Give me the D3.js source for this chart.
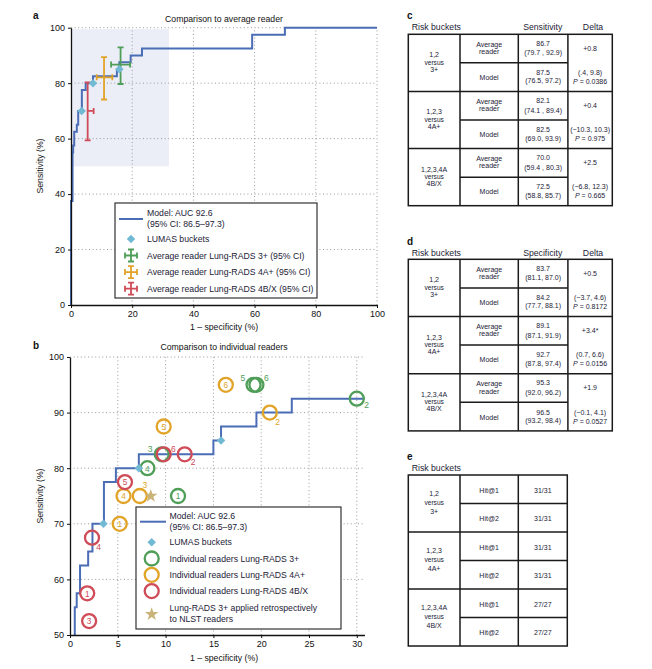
<!DOCTYPE html>
<html><head><meta charset="utf-8">
<script src="https://cdn.jsdelivr.net/npm/d3@7"></script>
<style>body{margin:0;background:#fff} text{font-family:"Liberation Sans",Arial,Helvetica,sans-serif}</style>
</head><body><svg id="c" width="652" height="669"></svg>
<script>
// ---------------- DATA ----------------
const rocFpr = [0, 0, 0.5, 0.7, 1.05, 1.9, 2.35, 3.55, 4.8, 7.2, 15.0, 15.8, 19.5, 23.2, 59.2, 69.9, 100];
const rocTpr = [0, 37.5, 55, 57.5, 62.5, 65, 70, 77.5, 80, 82.5, 85, 87.5, 90, 92.5, 97.5, 100, 100];

const lumasFpr = [3.5, 7.2, 15.8];
const lumasSens = [70, 80, 85];

const avgLabels = ["Average reader Lung-RADS 3+ (95% CI)", "Average reader Lung-RADS 4A+ (95% CI)", "Average reader Lung-RADS 4B/X (95% CI)"];
const avgFpr = [16.2, 10.8, 5.45];
const avgFprLo = [13.1, 8.4, 5.45];
const avgFprHi = [19.3, 13.5, 7.4];
const avgSens = [86.7, 82.1, 70.0];
const avgSensLo = [79.7, 74.1, 59.4];
const avgSensHi = [92.9, 89.4, 80.3];

const readerIds = [1, 2, 3, 4, 5, 6];
const r3Fpr = [11.3, 30.0, 9.6, 8.1, 19.2, 19.5];
const r3Sens = [75, 92.5, 82.5, 80, 95, 95];
const r4AFpr = [5.2, 20.9, 7.3, 5.6, 9.8, 16.3];
const r4ASens = [70, 90, 75, 75, 87.5, 95];
const r4BFpr = [1.8, 12.0, 2.0, 2.3, 5.75, 9.8];
const r4BSens = [57.5, 82.5, 52.5, 67.5, 77.5, 82.5];
const starFpr = [8.45];
const starSens = [75];

const readerLegend = ["Individual readers Lung-RADS 3+", "Individual readers Lung-RADS 4A+", "Individual readers Lung-RADS 4B/X"];

const ticksA = [0, 20, 40, 60, 80, 100];
const ticksBx = [0, 5, 10, 15, 20, 25, 30];
const ticksBy = [50, 60, 70, 80, 90, 100];

const buckets = [["1,2", "versus", "3+"], ["1,2,3", "versus", "4A+"], ["1,2,3,4A", "versus", "4B/X"]];
const sensAvgVal = ["86.7", "82.1", "70.0"];
const sensAvgCI = ["(79.7 , 92.9)", "(74.1 , 89.4)", "(59.4 , 80.3)"];
const sensModVal = ["87.5", "82.5", "72.5"];
const sensModCI = ["(76.5, 97.2)", "(69.0, 93.9)", "(58.8, 85.7)"];
const sensDelta = ["+0.8", "+0.4", "+2.5"];
const sensDeltaCI = ["(.4, 9.8)", "(\u221210.3, 10.3)", "(\u22126.8, 12.3)"];
const sensP = ["0.0386", "0.975", "0.665"];

const specAvgVal = ["83.7", "89.1", "95.3"];
const specAvgCI = ["(81.1, 87.0)", "(87.1, 91.9)", "(92.0, 96.2)"];
const specModVal = ["84.2", "92.7", "96.5"];
const specModCI = ["(77.7, 88.1)", "(87.8, 97.4)", "(93.2, 98.4)"];
const specDelta = ["+0.5", "+3.4*", "+1.9"];
const specDeltaCI = ["(\u22123.7, 4.6)", "(0.7, 6.6)", "(\u22120.1, 4.1)"];
const specP = ["0.8172", "0.0156", "0.0527"];

const hit1 = ["31/31", "31/31", "27/27"];
const hit2 = ["31/31", "31/31", "27/27"];

// ---------------- STYLE ----------------
const C = {line: "#4a6db5", dia: "#72bad3", g: "#4f9e58", y: "#e1a428", r: "#cf4b57", star: "#c9b378", grid: "#9a9a9a", txt: "#1c2236"};
const serCol = [C.g, C.y, C.r];
const FS = 8.7;

const svg = d3.select("#c");
svg.append("rect").attr("width", 652).attr("height", 669).attr("fill", "#fff");

function txt(g, x, y, s, opt = {}) {
  return g.append("text").attr("x", x).attr("y", y).text(s)
    .attr("font-size", opt.fs || FS).attr("fill", opt.fill || C.txt)
    .attr("text-anchor", opt.anchor || "start").attr("dominant-baseline", "central")
    .attr("font-weight", opt.bold ? "bold" : null).attr("font-style", opt.italic ? "italic" : null);
}

const diamond = d3.symbol().type(d3.symbolSquare).size(36);
const star = d3.symbol().type(d3.symbolStar).size(56);

function grid(g, x, y, xv, yv) {
  const [x0, x1] = x.range(), [y0, y1] = y.range();
  g.append("g").selectAll("line").data(xv).join("line")
    .attr("x1", d => x(d)).attr("x2", d => x(d)).attr("y1", y0).attr("y2", y1)
    .attr("stroke", C.grid).attr("stroke-width", 1).attr("stroke-dasharray", "1,2.6");
  g.append("g").selectAll("line").data(yv).join("line")
    .attr("y1", d => y(d)).attr("y2", d => y(d)).attr("x1", x0).attr("x2", x1)
    .attr("stroke", C.grid).attr("stroke-width", 1).attr("stroke-dasharray", "1,2.6");
}
function axes(g, x, y, xt, yt) {
  const ax = g.append("g").attr("transform", `translate(0,${y.range()[0]})`)
    .call(d3.axisBottom(x).tickValues(xt).tickSize(3).tickPadding(3).tickSizeOuter(0));
  const ay = g.append("g").attr("transform", `translate(${x.range()[0]},0)`)
    .call(d3.axisLeft(y).tickValues(yt).tickSize(3).tickPadding(3).tickSizeOuter(0));
  [ax, ay].forEach(a => {
    a.select(".domain").attr("stroke", "#111").attr("stroke-width", 1.3);
    a.selectAll(".tick line").attr("stroke", "#111");
    a.selectAll(".tick text").attr("font-size", 9).attr("fill", "#111")
      .attr("font-family", '"Liberation Sans",Arial,sans-serif');
  });
}
function errBar(g, x, y, cx, cy, xl, xh, yl, yh, col, cap) {
  const p = d3.path();
  p.moveTo(x(xl), y(cy)); p.lineTo(x(xh), y(cy));
  p.moveTo(x(cx), y(yl)); p.lineTo(x(cx), y(yh));
  p.moveTo(x(xl), y(cy) - cap); p.lineTo(x(xl), y(cy) + cap);
  p.moveTo(x(xh), y(cy) - cap); p.lineTo(x(xh), y(cy) + cap);
  p.moveTo(x(cx) - cap, y(yl)); p.lineTo(x(cx) + cap, y(yl));
  p.moveTo(x(cx) - cap, y(yh)); p.lineTo(x(cx) + cap, y(yh));
  g.append("path").attr("d", p.toString()).attr("stroke", col).attr("stroke-width", 1.8).attr("fill", "none");
}
const rocPts = rocFpr.map((f, i) => [f, rocTpr[i]]);

// ---------------- PANEL A ----------------
const gA = svg.append("g");
const xA = d3.scaleLinear().domain([0, 100]).range([71, 377]);
const yA = d3.scaleLinear().domain([0, 100]).range([305, 27.7]);
txt(gA, 33, 15, "a", {bold: true, fs: 10, fill: "#111"});
txt(gA, 224, 19, "Comparison to average reader", {anchor: "middle", fill: "#111"});
gA.append("rect").attr("x", xA(0)).attr("y", yA(99.5)).attr("width", xA(32) - xA(0)).attr("height", yA(50) - yA(99.5))
  .attr("fill", "#ebeef7");
grid(gA, xA, yA, [20, 40, 60, 80, 100], [20, 40, 60, 80, 100]);
gA.append("path").attr("d", d3.line().x(d => xA(d[0])).y(d => yA(d[1])).curve(d3.curveStepAfter)(rocPts))
  .attr("fill", "none").attr("stroke", C.line).attr("stroke-width", 2);
axes(gA, xA, yA, ticksA, ticksA);
avgFpr.forEach((f, i) => errBar(gA, xA, yA, f, avgSens[i], avgFprLo[i], avgFprHi[i], avgSensLo[i], avgSensHi[i], serCol[i], 3));
gA.selectAll(".dA").data(lumasFpr).join("path").attr("d", diamond)
  .attr("transform", (d, i) => `translate(${xA(d)},${yA(lumasSens[i])}) rotate(45)`).attr("fill", C.dia);
txt(gA, 224, 327, "1 \u2013 specificity (%)", {anchor: "middle", fill: "#111"});
gA.append("text").attr("transform", "translate(40,166) rotate(-90)").attr("text-anchor", "middle")
  .attr("dominant-baseline", "central").attr("font-size", FS).attr("fill", "#111").text("Sensitivity (%)");
// legend A
const lA = gA.append("g");
lA.append("rect").attr("x", 115).attr("y", 203).attr("width", 202).attr("height", 95)
  .attr("fill", "#fff").attr("stroke", "#333").attr("stroke-width", 1.2);
lA.append("line").attr("x1", 119).attr("x2", 143).attr("y1", 219).attr("y2", 219).attr("stroke", C.line).attr("stroke-width", 2);
txt(lA, 147, 213, "Model: AUC 92.6");
txt(lA, 147, 224, "(95% CI: 86.5\u201397.3)");
lA.append("path").attr("d", diamond).attr("transform", "translate(131,239) rotate(45)").attr("fill", C.dia);
txt(lA, 147, 239, "LUMAS buckets");
avgLabels.forEach((s, i) => {
  const cy = 255.5 + i * 16.6, cx = 131, h = 6, cap = 3;
  const p = d3.path();
  p.moveTo(cx - h, cy); p.lineTo(cx + h, cy); p.moveTo(cx, cy - h); p.lineTo(cx, cy + h);
  p.moveTo(cx - h, cy - cap); p.lineTo(cx - h, cy + cap); p.moveTo(cx + h, cy - cap); p.lineTo(cx + h, cy + cap);
  p.moveTo(cx - cap, cy - h); p.lineTo(cx + cap, cy - h); p.moveTo(cx - cap, cy + h); p.lineTo(cx + cap, cy + h);
  lA.append("path").attr("d", p.toString()).attr("stroke", serCol[i]).attr("stroke-width", 1.8).attr("fill", "none");
  txt(lA, 147, cy, s);
});

// ---------------- PANEL B ----------------
const gB = svg.append("g");
const xB = d3.scaleLinear().domain([0, 30.8]).range([70, 70 + 30.8 * 9.56]);
const yB = d3.scaleLinear().domain([50, 100]).range([635, 357]);
svg.append("clipPath").attr("id", "clipB").append("rect")
  .attr("x", xB(0)).attr("y", yB(100) - 1).attr("width", xB(30.8) - xB(0)).attr("height", yB(50) - yB(100) + 1);
txt(gB, 33, 345, "b", {bold: true, fs: 10, fill: "#111"});
txt(gB, 224, 347, "Comparison to individual readers", {anchor: "middle", fill: "#111"});
grid(gB, xB, yB, [5, 10, 15, 20, 25, 30], [60, 70, 80, 90, 100]);
gB.append("path").attr("clip-path", "url(#clipB)")
  .attr("d", d3.line().x(d => xB(d[0])).y(d => yB(d[1])).curve(d3.curveStepAfter)(rocPts))
  .attr("fill", "none").attr("stroke", C.line).attr("stroke-width", 2);
axes(gB, xB, yB, ticksBx, ticksBy);

// reader label placement: "in" = inside circle, otherwise [dx, dy]
const place = [
  {2: [9.7, 6.4], 3: [-11.7, -5.7], 5: [-10.7, -6.7], 6: [10, -6.7]},
  {2: [7.7, 9], 3: [5, -11]},
  {2: [8.3, 8], 4: [6.7, 9], 6: [9.7, -5.3]}
];
const readerSets = [[r3Fpr, r3Sens], [r4AFpr, r4ASens], [r4BFpr, r4BSens]];
readerSets.forEach(([fx, sy], k) => {
  readerIds.forEach((id, i) => {
    const cx = xB(fx[i]), cy = yB(sy[i]);
    gB.append("circle").attr("cx", cx).attr("cy", cy).attr("r", 7).attr("fill", "none")
      .attr("stroke", serCol[k]).attr("stroke-width", 2.3);
    const off = place[k][id];
    if (off) txt(gB, cx + off[0], cy + off[1], id, {anchor: "middle", fs: 8.5, fill: serCol[k]});
    else txt(gB, cx, cy + 0.3, id, {anchor: "middle", fs: 8.3, fill: serCol[k]});
  });
});
gB.selectAll(".dB").data(lumasFpr).join("path").attr("d", diamond)
  .attr("transform", (d, i) => `translate(${xB(d)},${yB(lumasSens[i])}) rotate(45)`).attr("fill", C.dia);
gB.selectAll(".sB").data(starFpr).join("path").attr("d", star)
  .attr("transform", (d, i) => `translate(${xB(d)},${yB(starSens[i])})`).attr("fill", C.star);
txt(gB, 224, 658, "1 \u2013 specificity (%)", {anchor: "middle", fill: "#111"});
gB.append("text").attr("transform", "translate(40,496) rotate(-90)").attr("text-anchor", "middle")
  .attr("dominant-baseline", "central").attr("font-size", FS).attr("fill", "#111").text("Sensitivity (%)");
// legend B
const lB = gB.append("g");
lB.append("rect").attr("x", 136).attr("y", 507).attr("width", 205).attr("height", 122)
  .attr("fill", "#fff").attr("stroke", "#333").attr("stroke-width", 1.2);
lB.append("line").attr("x1", 140).attr("x2", 166).attr("y1", 521.7).attr("y2", 521.7).attr("stroke", C.line).attr("stroke-width", 2);
txt(lB, 169.5, 516, "Model: AUC 92.6");
txt(lB, 169.5, 527, "(95% CI: 86.5\u201397.3)");
lB.append("path").attr("d", diamond).attr("transform", "translate(151.7,542.3) rotate(45)").attr("fill", C.dia);
txt(lB, 169.5, 542.3, "LUMAS buckets");
readerLegend.forEach((s, i) => {
  const cy = 558.5 + i * 16.3;
  lB.append("circle").attr("cx", 151.7).attr("cy", cy).attr("r", 7).attr("fill", "none")
    .attr("stroke", serCol[i]).attr("stroke-width", 2.3);
  txt(lB, 169.5, cy, s);
});
lB.append("path").attr("d", star).attr("transform", "translate(151.7,614.3)").attr("fill", C.star);
txt(lB, 169.5, 607.7, "Lung-RADS 3+ applied retrospectively");
txt(lB, 169.5, 618.7, "to NLST readers");

// ---------------- TABLES ----------------
const colX = [408.3, 460, 518.3, 567.9, 612.3];
function tableFrame(g, top, groupH, ncols, mergedLast) {
  const xs = colX.slice(0, ncols + 1);
  const bottom = top + groupH * 3;
  const st = (sel) => sel.attr("stroke", "#1a1a1a").attr("stroke-width", 1.5).attr("fill", "none");
  st(g.append("rect").attr("x", xs[0]).attr("y", top).attr("width", xs[ncols] - xs[0]).attr("height", bottom - top));
  xs.slice(1, ncols).forEach(x => st(g.append("line").attr("x1", x).attr("x2", x).attr("y1", top).attr("y2", bottom)));
  for (let k = 1; k < 3; k++) st(g.append("line").attr("x1", xs[0]).attr("x2", xs[ncols]).attr("y1", top + k * groupH).attr("y2", top + k * groupH));
  const innerEnd = mergedLast ? xs[ncols - 1] : xs[ncols];
  for (let k = 0; k < 3; k++) st(g.append("line").attr("x1", xs[1]).attr("x2", innerEnd)
    .attr("y1", top + k * groupH + groupH / 2).attr("y2", top + k * groupH + groupH / 2));
  return xs.slice(0, -1).map((x, i) => (x + xs[i + 1]) / 2);
}
function statTable(label, labY, headY, colName, top, gH, avgV, avgC, modV, modC, dl, dlC, pv) {
  const g = svg.append("g");
  txt(g, 407, labY, label, {bold: true, fs: 10, fill: "#111"});
  txt(g, 411.7, headY, "Risk buckets");
  txt(g, 542.7, headY, colName, {anchor: "middle"});
  txt(g, 593, headY, "Delta", {anchor: "middle"});
  const mids = tableFrame(g, top, gH, 4, true);
  const fs = 7;
  buckets.forEach((b, k) => {
    const t = top + k * gH;
    txt(g, mids[0], t + 20.5, b[0], {anchor: "middle", fs});
    txt(g, mids[0], t + 27.8, b[1], {anchor: "middle", fs: 6.6});
    txt(g, mids[0], t + 35, b[2], {anchor: "middle", fs});
    txt(g, mids[1], t + 10, "Average", {anchor: "middle", fs});
    txt(g, mids[1], t + 17.4, "reader", {anchor: "middle", fs});
    txt(g, mids[1], t + 43.4, "Model", {anchor: "middle", fs});
    txt(g, mids[2], t + 9.2, avgV[k], {anchor: "middle", fs});
    txt(g, mids[2], t + 18.6, avgC[k], {anchor: "middle", fs});
    txt(g, mids[2], t + 38.4, modV[k], {anchor: "middle", fs});
    txt(g, mids[2], t + 46.6, modC[k], {anchor: "middle", fs});
    txt(g, mids[3], t + 14, dl[k], {anchor: "middle", fs});
    txt(g, mids[3], t + 38.4, dlC[k], {anchor: "middle", fs});
    const pt = txt(g, mids[3], t + 46.8, "", {anchor: "middle", fs});
    pt.append("tspan").attr("font-style", "italic").text("P");
    pt.append("tspan").text(" = " + pv[k]);
  });
}
statTable("c", 15, 26.7, "Sensitivity", 34.3, 57.13, sensAvgVal, sensAvgCI, sensModVal, sensModCI, sensDelta, sensDeltaCI, sensP);
statTable("d", 241.7, 252.7, "Specificity", 259.3, 57.2, specAvgVal, specAvgCI, specModVal, specModCI, specDelta, specDeltaCI, specP);

// table e
(function () {
  const g = svg.append("g");
  const top = 475, gH = 57;
  txt(g, 407, 456.7, "e", {bold: true, fs: 10, fill: "#111"});
  txt(g, 411.7, 467.7, "Risk buckets");
  const xs = [408.3, 460, 518.3, 567.3];
  const st = (sel) => sel.attr("stroke", "#1a1a1a").attr("stroke-width", 1.5).attr("fill", "none");
  st(g.append("rect").attr("x", xs[0]).attr("y", top).attr("width", xs[3] - xs[0]).attr("height", gH * 3));
  [xs[1], xs[2]].forEach(x => st(g.append("line").attr("x1", x).attr("x2", x).attr("y1", top).attr("y2", top + 3 * gH)));
  for (let k = 1; k < 3; k++) st(g.append("line").attr("x1", xs[0]).attr("x2", xs[3]).attr("y1", top + k * gH).attr("y2", top + k * gH));
  for (let k = 0; k < 3; k++) st(g.append("line").attr("x1", xs[1]).attr("x2", xs[3]).attr("y1", top + k * gH + gH / 2).attr("y2", top + k * gH + gH / 2));
  const m = [(xs[0] + xs[1]) / 2, (xs[1] + xs[2]) / 2, (xs[2] + xs[3]) / 2];
  const fs = 7;
  buckets.forEach((b, k) => {
    const t = top + k * gH;
    txt(g, m[0], t + 18.5, b[0], {anchor: "middle", fs});
    txt(g, m[0], t + 27.7, b[1], {anchor: "middle", fs: 6.6});
    txt(g, m[0], t + 36.2, b[2], {anchor: "middle", fs});
    txt(g, m[1], t + 15, "Hit@1", {anchor: "middle", fs});
    txt(g, m[1], t + 43.2, "Hit@2", {anchor: "middle", fs});
    txt(g, m[2], t + 15, hit1[k], {anchor: "middle", fs});
    txt(g, m[2], t + 43.2, hit2[k], {anchor: "middle", fs});
  });
})();
</script></body></html>
